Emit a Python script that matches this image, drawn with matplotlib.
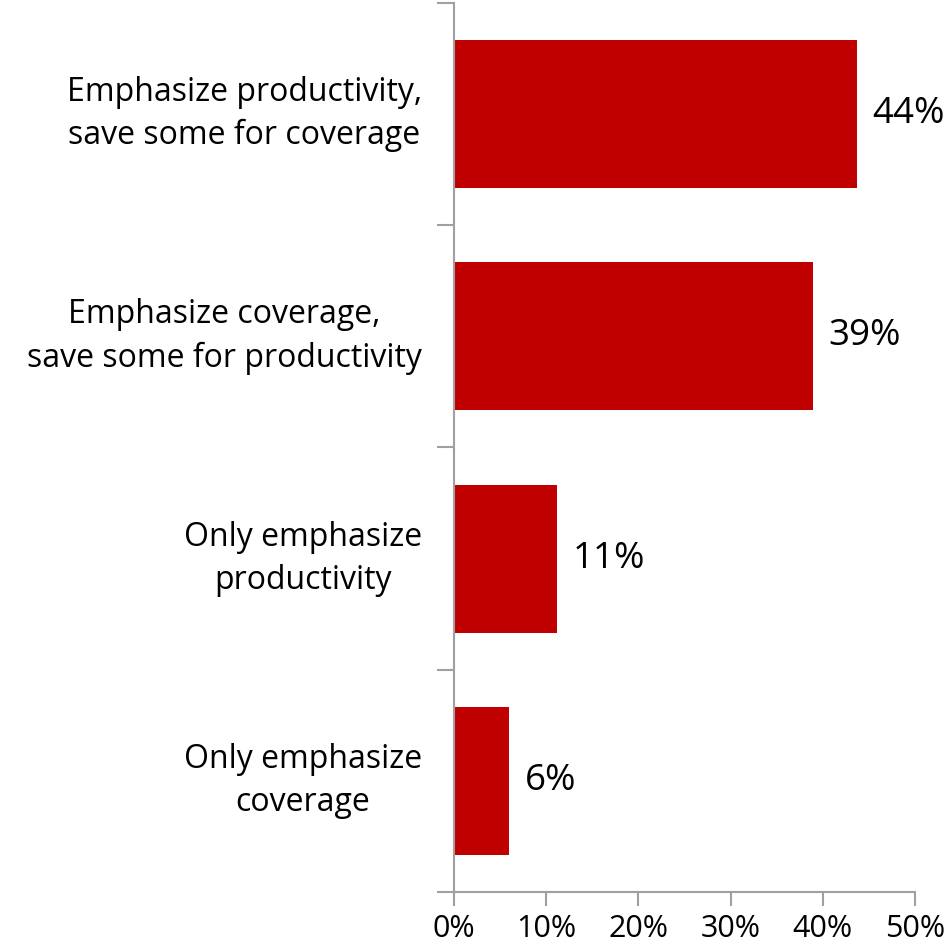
import matplotlib
matplotlib.use("Agg")
import matplotlib.pyplot as plt

categories = ["Emphasize productivity,\nsave some for coverage",
              "Emphasize coverage,\nsave some for productivity",
              "Only emphasize\nproductivity",
              "Only emphasize\ncoverage"]
values = [43.7, 38.9, 11.2, 6.0]
value_labels = ["44%", "39%", "11%", "6%"]
xticks = [0, 10, 20, 30, 40, 50]
xtick_labels = ["0%", "10%", "20%", "30%", "40%", "50%"]

plt.rcParams['font.family'] = ['Open Sans', 'DejaVu Sans']

fig = plt.figure(figsize=(9.51, 9.47), dpi=100)
ax = fig.add_axes([454/951, 55/947, (915-454)/951, (892-3)/947])

pos = list(range(len(categories)))
ax.barh(pos, values, height=0.665, color="#C00000")
for p, v, lab in zip(pos, values, value_labels):
    ax.text(v + 1.7, p, lab, va="center", ha="left", fontsize=26.5)

ax.set_xlim(0, 50)
ax.set_ylim(3.5, -0.5)
ax.set_xticks(xticks)
ax.set_xticklabels(xtick_labels, fontsize=22)
ax.set_yticks([-0.5, 0.5, 1.5, 2.5, 3.5])
ax.set_yticklabels([])
ax.set_yticks(pos, minor=True)
ax.set_yticklabels(categories, minor=True, fontsize=23, ha="right", va="center",
                   multialignment="center", linespacing=1.4)
ax.tick_params(axis="y", which="minor", length=0, pad=23)
ax.tick_params(axis="y", which="major", length=12, width=1.5, color="#A0A0A0")
ax.tick_params(axis="x", length=10, width=1.5, color="#A0A0A0", pad=6)

for s in ["top", "right"]:
    ax.spines[s].set_visible(False)
for s in ["left", "bottom"]:
    ax.spines[s].set_color("#A0A0A0")
    ax.spines[s].set_linewidth(1.5)

fig.savefig("out.png", dpi=100)
